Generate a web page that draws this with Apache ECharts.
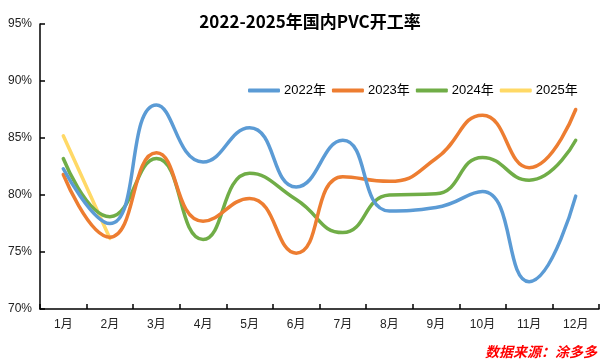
<!DOCTYPE html>
<html>
<head>
<meta charset="utf-8">
<script src="https://cdn.jsdelivr.net/npm/echarts@6/dist/echarts.min.js"></script>
<style>
html,body{margin:0;padding:0;background:#fff;}
#chart{width:600px;height:360px;}
</style>
</head>
<body>
<div id="chart"></div>
<script>
const categories = ['1月','2月','3月','4月','5月','6月','7月','8月','9月','10月','11月','12月'];
const s2022 = [82.3, 77.5, 87.9, 82.9, 85.9, 80.7, 84.8, 78.6, 78.9, 80.3, 72.4, 79.9];
const s2023 = [81.8, 76.3, 83.7, 77.7, 79.7, 74.9, 81.6, 81.2, 83.2, 87.0, 82.4, 87.5];
const s2024 = [83.2, 78.1, 83.2, 76.1, 81.9, 79.6, 76.7, 80.0, 80.1, 83.3, 81.3, 84.8];
const s2025 = [85.2, 76.2];
const seriesNames = ['2022年','2023年','2024年','2025年'];
const colors = ['#5B9BD5','#ED7D31','#70AD47','#FFD966'];
const titleText = '2022-2025年国内PVC开工率';
const sourceText = '数据来源：涂多多';

const chart = echarts.init(document.getElementById('chart'), null, {renderer:'canvas'});
const dataList = [s2022, s2023, s2024, s2025];
const series = dataList.map((d, i) => ({
  name: seriesNames[i],
  type: 'line',
  data: d,
  smooth: 0.5,
  symbol: 'none',
  lineStyle: {width: 3.5, color: colors[i], cap: 'round'},
  itemStyle: {color: colors[i]},
  z: 10 - i
}));

chart.setOption({
  animation: false,
  backgroundColor: '#fff',
  color: colors,
  title: {
    text: titleText,
    left: 305, top: 8, textAlign: 'center',
    textStyle: {fontFamily: '"Noto Sans CJK SC", sans-serif', fontWeight: 'bold', fontSize: 17, color: '#000'}
  },
  legend: {
    data: seriesNames.map(n => ({name: n, icon: 'roundRect'})),
    left: 243, top: 79,
    itemWidth: 32, itemHeight: 4, itemGap: 6,
    textStyle: {fontFamily: '"Liberation Sans", "Noto Sans CJK SC", sans-serif', fontSize: 13, color: '#000', padding: [0,0,0,-1]}
  },
  grid: {left: 40, right: 1, top: 24, bottom: 51, containLabel: false},
  xAxis: {
    type: 'category',
    data: categories,
    boundaryGap: true,
    axisLine: {lineStyle: {color: '#000', width: 1.5}},
    axisTick: {show: true, inside: true, length: 5, interval: 0, lineStyle: {color: '#000', width: 1.5}},
    axisLabel: {margin: 10, fontSize: 12, color: '#222', fontFamily: '"Liberation Sans", "Noto Sans CJK SC", sans-serif', interval: 0},
    splitLine: {show: false}
  },
  yAxis: {
    type: 'value',
    min: 70, max: 95, interval: 5,
    axisLine: {show: true, lineStyle: {color: '#000', width: 1.5}},
    axisTick: {show: true, inside: true, length: 5, lineStyle: {color: '#000', width: 1.5}},
    axisLabel: {formatter: '{value}%', margin: 8, fontSize: 12, color: '#222', fontFamily: '"Liberation Sans", sans-serif'},
    splitLine: {show: false}
  },
  graphic: [{
    type: 'text',
    right: 3, bottom: 1,
    style: {text: sourceText, fill: '#FF0000', font: 'italic bold 14px "Noto Sans CJK SC", sans-serif'}
  }],
  series: series
});
</script>
</body>
</html>
